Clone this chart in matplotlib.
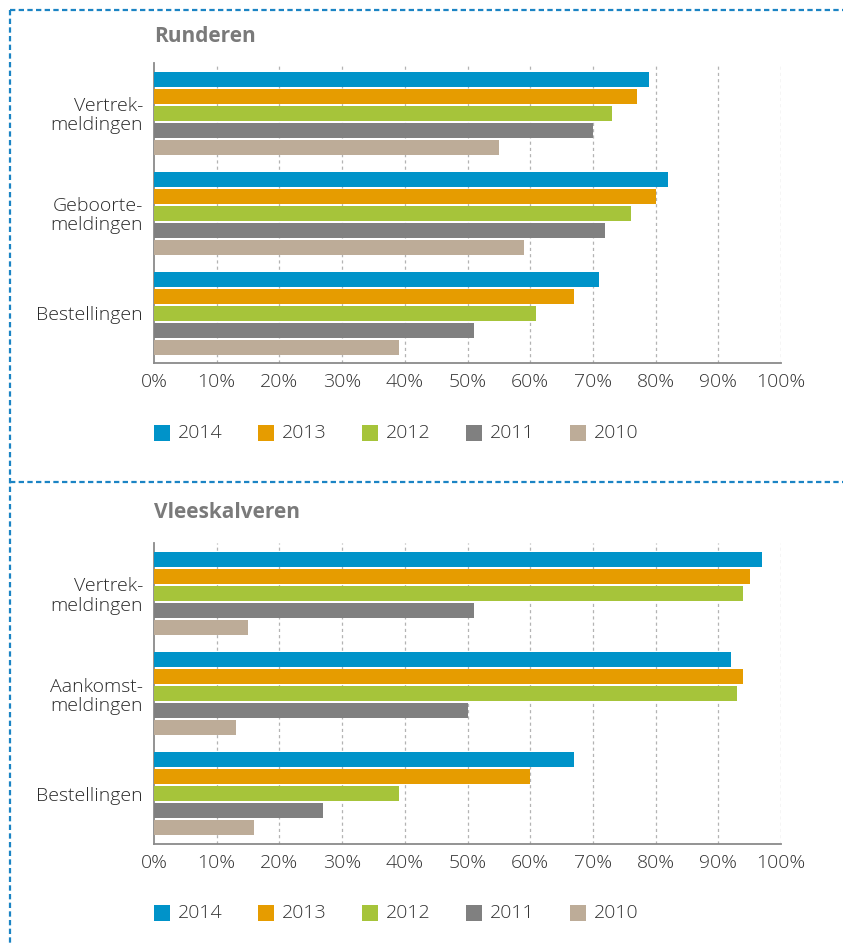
import matplotlib
matplotlib.use("Agg")
import matplotlib.pyplot as plt
from matplotlib import font_manager
from matplotlib.patches import Rectangle
from matplotlib.lines import Line2D
import numpy as np

# ---------------- data ----------------
years = ["2014", "2013", "2012", "2011", "2010"]
colors = ["#0093c9", "#e69c00", "#a6c43a", "#808080", "#bdac98"]

runderen_title = "Runderen"
runderen_cats = ["Vertrek-\nmeldingen", "Geboorte-\nmeldingen", "Bestellingen"]
runderen_2014 = [79, 82, 71]
runderen_2013 = [77, 80, 67]
runderen_2012 = [73, 76, 61]
runderen_2011 = [70, 72, 51]
runderen_2010 = [55, 59, 39]

vlees_title = "Vleeskalveren"
vlees_cats = ["Vertrek-\nmeldingen", "Aankomst-\nmeldingen", "Bestellingen"]
vlees_2014 = [97, 92, 67]
vlees_2013 = [95, 94, 60]
vlees_2012 = [94, 93, 39]
vlees_2011 = [51, 50, 27]
vlees_2010 = [15, 13, 16]

xticks = [0, 10, 20, 30, 40, 50, 60, 70, 80, 90, 100]
xtick_labels = [f"{v}%" for v in xticks]

# ---------------- fonts ----------------
names = {f.name for f in font_manager.fontManager.ttflist}
fam = "Open Sans" if "Open Sans" in names else "DejaVu Sans"
light_ok = any(f.name == fam and (f.weight in (300, "light") or str(f.weight) == "300")
               for f in font_manager.fontManager.ttflist)
wt = "light" if light_ok else "normal"
plt.rcParams["font.family"] = [fam, "DejaVu Sans"]

W, H = 843, 943
fig = plt.figure(figsize=(W / 100, H / 100), dpi=100)

def fx(px):
    return px / W

def fy(py):
    return 1 - py / H

label_color = "#333333"
grid_color = "#b3b3b3"
spine_color = "#8a8a8a"
fs = 14

def panel(top_px, bottom_px, title, cats, series, legend_y, title_y):
    ax = fig.add_axes([fx(154), fy(bottom_px), fx(781) - fx(154), (bottom_px - top_px) / H])
    n = len(cats)
    centers = np.arange(n)
    step, h = 0.17, 0.15
    for i, (vals, col) in enumerate(zip(series, colors)):
        ax.barh(centers + (i - 2) * step, vals, height=h, color=col, zorder=3)
    ax.set_xlim(0, 100)
    ax.set_ylim(n - 0.5, -0.5)
    ax.set_xticks(xticks)
    ax.set_xticklabels(xtick_labels, fontsize=fs, color=label_color, fontweight=wt)
    ax.set_yticks(centers)
    ax.set_yticklabels(cats, fontsize=fs, color="#2a2a2a", linespacing=1.1, fontweight=wt)
    ax.tick_params(axis="both", length=0)
    ax.tick_params(axis="x", pad=7)
    ax.tick_params(axis="y", pad=8)
    for s in ["top", "right"]:
        ax.spines[s].set_visible(False)
    for s in ["left", "bottom"]:
        ax.spines[s].set_color(spine_color)
        ax.spines[s].set_linewidth(1.3)
    for v in xticks[1:]:
        ax.axvline(v, color=grid_color, lw=0.9, ls=(0, (2.5, 2.5)), zorder=1)
    ax.set_facecolor("none")
    fig.text(fx(154), fy(title_y), title, fontsize=15, fontweight="bold",
             color="#7a7a7a", ha="left", va="center")
    # legend
    for i, (yr, col) in enumerate(zip(years, colors)):
        x0 = 154 + 104 * i
        fig.add_artist(Rectangle((fx(x0), fy(legend_y + 8)), fx(16), 16 / H,
                                 transform=fig.transFigure, color=col, lw=0))
        fig.text(fx(x0 + 24), fy(legend_y), yr, fontsize=fs, color=label_color,
                 ha="left", va="center", fontweight=wt)
    return ax

panel(63, 363, runderen_title, runderen_cats,
      [runderen_2014, runderen_2013, runderen_2012, runderen_2011, runderen_2010],
      433, 37)
panel(543, 844, vlees_title, vlees_cats,
      [vlees_2014, vlees_2013, vlees_2012, vlees_2011, vlees_2010],
      913, 512)

# dashed frame lines
border_col = "#1b84c4"
dash = (0, (2.4, 1.5))
for (xs, ys) in [((10, W), (10, 10)), ((10, 10), (10, H)), ((10, W), (482, 482))]:
    fig.add_artist(Line2D([fx(xs[0]), fx(xs[1])], [fy(ys[0]), fy(ys[1])],
                          transform=fig.transFigure, color=border_col, lw=1.6, ls=dash))

fig.savefig("out.png", dpi=100)
